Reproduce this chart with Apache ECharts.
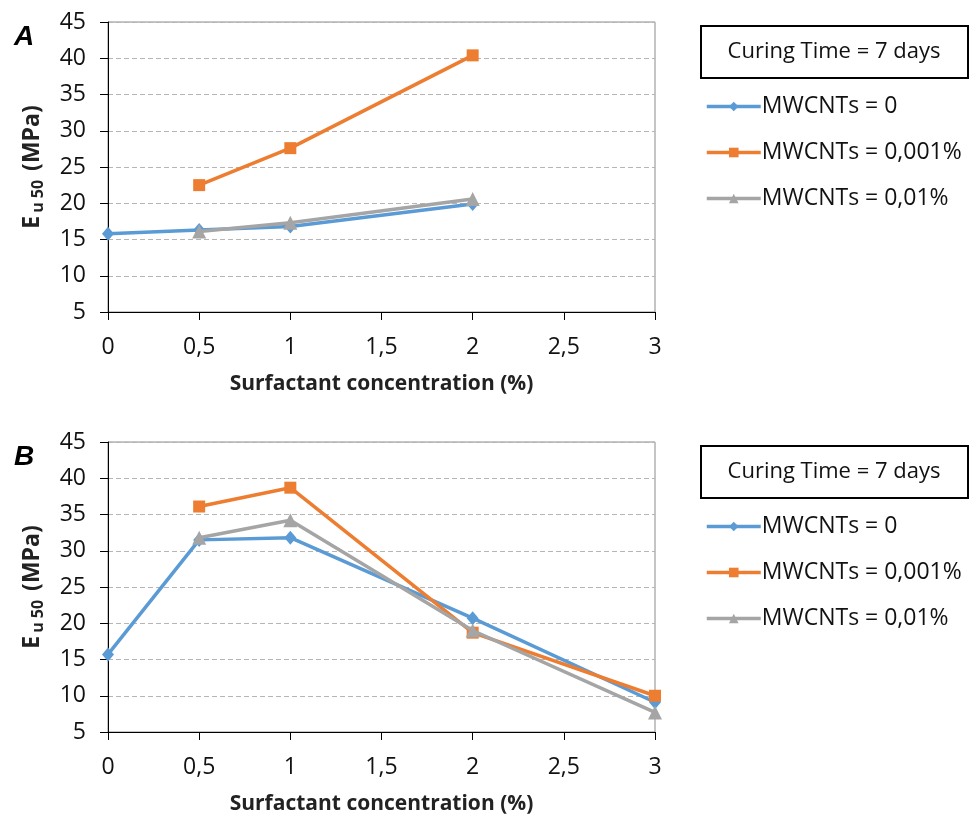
<!DOCTYPE html>
<html>
<head>
<meta charset="utf-8">
<script src="https://cdn.jsdelivr.net/npm/echarts@6/dist/echarts.min.js"></script>
<style>
  html, body { margin: 0; padding: 0; background: #fff; }
  #chart { width: 970px; height: 820px; }
</style>
</head>
<body>
<div id="chart"></div>
<script>
// Surfactant concentration (%) on the x axis
const xTicks = [0, 0.5, 1, 1.5, 2, 2.5, 3];

// Panel A – E_u50 (MPa), curing time 7 days
const aBlueX = [0, 0.5, 1, 2];
const aBlueY = [15.8, 16.3, 16.8, 19.9];
const aOrangeX = [0.5, 1, 2];
const aOrangeY = [22.5, 27.6, 40.4];
const aGrayX = [0.5, 1, 2];
const aGrayY = [16.1, 17.3, 20.6];

// Panel B – E_u50 (MPa), curing time 7 days
const bBlueX = [0, 0.5, 1, 2, 3];
const bBlueY = [15.7, 31.5, 31.8, 20.7, 9.1];
const bOrangeX = [0.5, 1, 2, 3];
const bOrangeY = [36.1, 38.7, 18.7, 10.0];
const bGrayX = [0.5, 1, 2, 3];
const bGrayY = [31.8, 34.2, 19.0, 7.7];

const seriesNames = ['MWCNTs = 0', 'MWCNTs = 0,001%', 'MWCNTs = 0,01%'];
const colors = ['#5B9BD5', '#ED7D31', '#A5A5A5'];
const symbols = ['diamond', 'rect', 'triangle'];
const symbolSizes = [[12, 14], 12, 14];

const boxText = 'Curing Time = 7 days';
const font = '"Open Sans", "Noto Sans", sans-serif';

const zip = (xs, ys) => xs.map((x, i) => [x, ys[i]]);

const panels = [
  { top: 22, label: 'A', data: [zip(aBlueX, aBlueY), zip(aOrangeX, aOrangeY), zip(aGrayX, aGrayY)] },
  { top: 442, label: 'B', data: [zip(bBlueX, bBlueY), zip(bOrangeX, bOrangeY), zip(bGrayX, bGrayY)] }
];
const plotH = 290;

const option = {
  backgroundColor: '#fff',
  animation: false,
  textStyle: { fontFamily: font },
  title: panels.map(p => ({
    text: p.label,
    left: 9, top: p.top - 4,
    textStyle: { fontSize: 28, fontWeight: 900, fontStyle: 'italic', color: '#000', fontFamily: '"Liberation Sans", Arial, sans-serif' }
  })),
  grid: panels.map(p => ({
    left: 108, width: 547, top: p.top, height: plotH,
    show: true, borderColor: '#8a8a8a', borderWidth: 1, backgroundColor: 'transparent'
  })),
  xAxis: panels.map((p, i) => ({
    type: 'value', gridIndex: i, min: 0, max: 3, interval: 0.5,
    name: 'Surfactant concentration (%)',
    nameLocation: 'middle', nameGap: 62,
    nameTextStyle: { fontSize: 21, fontWeight: 'bold', color: '#222', fontFamily: font },
    axisLine: { show: true, onZero: false, lineStyle: { color: '#000', width: 1 } },
    axisTick: { show: true, length: 8, lineStyle: { color: '#000' } },
    axisLabel: { fontSize: 23, color: '#111', margin: 24, formatter: v => String(v).replace('.', ',') },
    splitLine: { show: false }
  })),
  yAxis: panels.map((p, i) => ({
    type: 'value', gridIndex: i, min: 5, max: 45, interval: 5,
    name: '{e|E}{s|u 50}{e| (MPa)}',
    nameLocation: 'middle', nameGap: 62, nameRotate: 90,
    nameTextStyle: {
      rich: {
        e: { fontSize: 23, fontWeight: 'bold', color: '#222', fontFamily: font },
        s: { fontSize: 16, fontWeight: 'bold', color: '#222', fontFamily: font, padding: [12, 3, 0, 3] }
      }
    },
    axisLine: { show: true, onZero: false, lineStyle: { color: '#000', width: 1 } },
    axisTick: { show: true, length: 8, lineStyle: { color: '#000' } },
    axisLabel: { fontSize: 23, color: '#111', margin: 22 },
    splitLine: { show: true, lineStyle: { color: '#b5b5b5', type: [5, 3], width: 1 } }
  })),
  legend: panels.map(p => ({
    orient: 'vertical',
    left: 700, top: p.top + 68,
    itemWidth: 54, itemHeight: 12, itemGap: 23,
    data: seriesNames,
    selectedMode: false,
    lineStyle: { width: 3.5 },
    textStyle: { fontSize: 23, color: '#111', fontFamily: font, padding: [0, 0, 0, -4] }
  })),
  graphic: panels.map(p => ({
    type: 'group', left: 700, top: p.top + 3,
    children: [
      { type: 'rect', shape: { x: 0, y: 0, width: 267, height: 52 }, style: { fill: '#fff', stroke: '#000', lineWidth: 2 } },
      { type: 'text', x: 133, y: 26, style: { text: boxText, fontSize: 22, fontFamily: font, fill: '#111', align: 'center', verticalAlign: 'middle' } }
    ]
  })),
  series: []
};

panels.forEach((p, pi) => {
  p.data.forEach((d, si) => {
    option.series.push({
      type: 'line', name: seriesNames[si],
      xAxisIndex: pi, yAxisIndex: pi,
      data: d,
      symbol: symbols[si], symbolSize: symbolSizes[si],
      showAllSymbol: true,
      lineStyle: { color: colors[si], width: 3.5 },
      itemStyle: { color: colors[si] },
      z: 2 + si
    });
  });
});

const chart = echarts.init(document.getElementById('chart'), null, { renderer: 'canvas' });
chart.setOption(option);
</script>
</body>
</html>
